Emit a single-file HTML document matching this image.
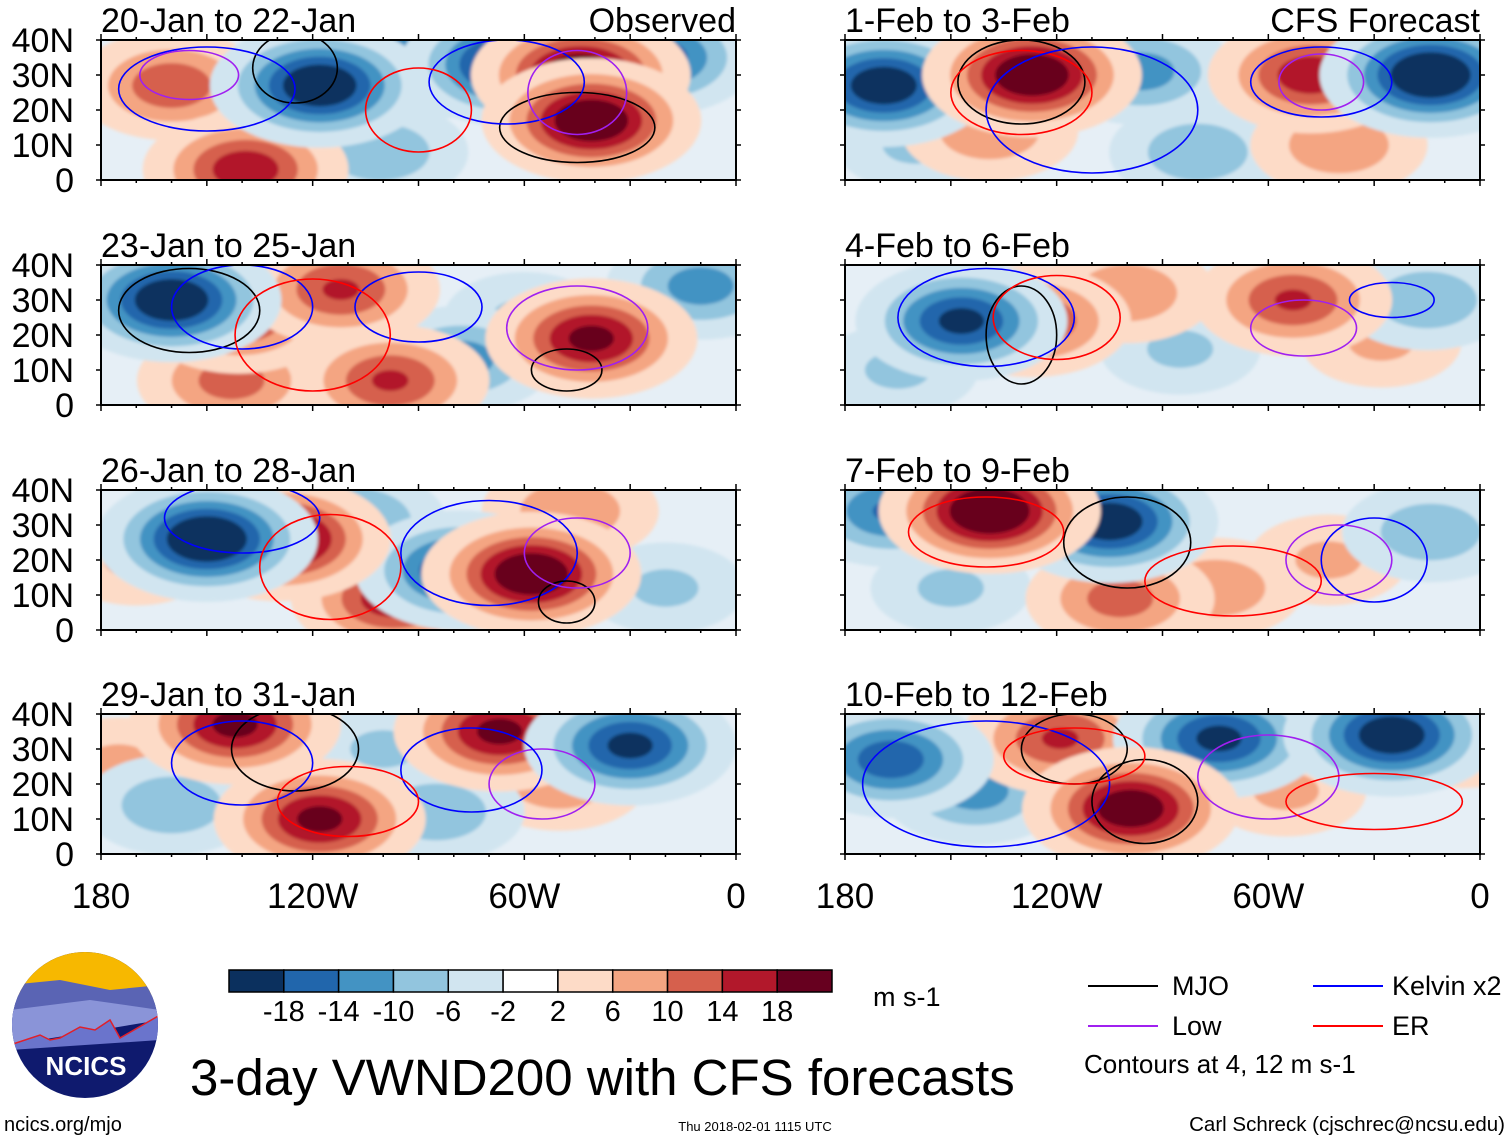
<!DOCTYPE html>
<html><head><meta charset="utf-8">
<style>
body{margin:0;background:#fff;}
svg{display:block;font-family:"Liberation Sans",sans-serif;}
</style></head>
<body>
<svg id="chart" width="1510" height="1141" viewBox="0 0 1510 1141" xmlns="http://www.w3.org/2000/svg">
<defs>
<filter id="soft" x="-20%" y="-20%" width="140%" height="140%"><feGaussianBlur stdDeviation="1.5"/></filter>
</defs>
<g id="panels"></g>

<g id="cbar"></g>
<text x="873" y="1006" font-size="27">m s-1</text>

<g>
<clipPath id="logoclip"><circle cx="85" cy="1025" r="73"/></clipPath>
<g clip-path="url(#logoclip)">
<rect x="10" y="950" width="150" height="150" fill="#0f1a6e"/>
<rect x="10" y="950" width="150" height="45" fill="#f7b800"/>
<path d="M10 985 L60 980 L110 990 L160 985 L160 1020 L10 1030Z" fill="#5a64b4"/>
<path d="M10 1010 L90 1000 L160 1010 L160 1020 L10 1045Z" fill="#8a94d8"/>
<path d="M10 1045 L40 1035 L50 1040 L60 1038 L80 1027 L95 1030 L110 1020 L120 1038 L160 1015 L160 1040 L10 1050Z" fill="#6a74cc"/>
<path d="M10 1045 L40 1035 L50 1040 L60 1038 L80 1027 L95 1030 L110 1020 L120 1038 L160 1015" fill="none" stroke="#e0202a" stroke-width="1.5"/>
</g>
<text x="86" y="1075" font-size="26" font-weight="bold" fill="#fff" text-anchor="middle">NCICS</text>
</g>
<text x="4" y="1131" font-size="20">ncics.org/mjo</text>
<text x="190" y="1095" font-size="51">3-day VWND200 with CFS forecasts</text>
<text x="755" y="1131" font-size="13" text-anchor="middle">Thu 2018-02-01 1115 UTC</text>
<text x="1505" y="1131" font-size="20.5" text-anchor="end">Carl Schreck (cjschrec@ncsu.edu)</text>

<g>
<line x1="1088" y1="986" x2="1158" y2="986" stroke="#000" stroke-width="2"/>
<text x="1172" y="995" font-size="27">MJO</text>
<line x1="1313" y1="986" x2="1383" y2="986" stroke="#0000ff" stroke-width="2"/>
<text x="1392" y="995" font-size="27">Kelvin x2</text>
<line x1="1088" y1="1026" x2="1158" y2="1026" stroke="#a020f0" stroke-width="2"/>
<text x="1172" y="1035" font-size="27">Low</text>
<line x1="1313" y1="1026" x2="1383" y2="1026" stroke="#ff0000" stroke-width="2"/>
<text x="1392" y="1035" font-size="27">ER</text>
<text x="1084" y="1073" font-size="26">Contours at 4, 12 m s-1</text>
</g>
</svg>
<script>
const levels = [-18,-14,-10,-6,-2,2,6,10,14,18];
const levelColors = ["#0b305e","#2166ac","#4393c3","#92c5de","#d1e5f0","#ffffff","#fddbc7","#f4a582","#d6604d","#b2182b","#67001f"];
const panelTitles = ["20-Jan to 22-Jan","23-Jan to 25-Jan","26-Jan to 28-Jan","29-Jan to 31-Jan","1-Feb to 3-Feb","4-Feb to 6-Feb","7-Feb to 9-Feb","10-Feb to 12-Feb"];
const latTicks = ["40N","30N","20N","10N","0"];
const lonTicks = ["180","120W","60W","0"];
// anomaly centres per panel: [lonW, lat, value m/s]
const blobs0 = [[160,27,11],[118,27,-19],[64,33,-19],[44,30,19],[41,17,19],[139,3,14],[23,35,-14],[101,8,-8],[87,34,-14],[130,15,-6]];
const blobs1 = [[160,30,-19],[141,25,12],[143,7,10],[112,33,12],[98,7,12],[78,13,-10],[41,19,16],[10,34,-10],[118,8,-8],[60,25,-6]];
const blobs2 = [[150,26,-20],[129,26,19],[97,9,14],[78,17,-16],[58,16,19],[109,31,-10],[47,34,8],[20,12,-6],[170,20,6]];
const blobs3 = [[142,37,16],[118,10,16],[67,35,16],[30,31,-16],[160,14,-8],[50,21,8],[85,12,-8],[175,26,6],[100,30,-6]];
const blobs4 = [[169,27,-18],[127,30,19],[139,14,8],[96,31,-10],[48,30,14],[14,30,-20],[80,8,-8],[40,10,8],[160,10,-6]];
const blobs5 = [[147,24,-16],[127,24,12],[53,30,12],[100,32,8],[85,16,-6],[15,30,-8],[28,18,6],[165,10,-6]];
const blobs6 = [[139,34,20],[167,34,-12],[105,31,-18],[102,9,10],[75,12,8],[43,20,6],[14,28,-8],[150,12,-6]];
const blobs7 = [[167,27,-14],[119,33,12],[99,13,18],[74,33,-16],[25,34,-18],[5,36,16],[143,18,-10],[55,18,6]];
const allBlobs = [blobs0,blobs1,blobs2,blobs3,blobs4,blobs5,blobs6,blobs7];
// contours per panel: [lonW, lat, halfWidthDeg, halfHeightDeg, kind]
const contours0 = [[125,32,12,10,"mjo"],[45,15,22,10,"mjo"],[150,26,25,12,"kelvin"],[65,28,22,12,"kelvin"],[45,25,14,12,"low"],[155,30,14,7,"low"],[90,20,15,12,"er"]];
const contours1 = [[155,27,20,12,"mjo"],[48,10,10,6,"mjo"],[140,28,20,12,"kelvin"],[90,28,18,10,"kelvin"],[45,22,20,12,"low"],[120,20,22,16,"er"]];
const contours2 = [[140,32,22,10,"kelvin"],[70,22,25,15,"kelvin"],[48,8,8,6,"mjo"],[45,22,15,10,"low"],[115,18,20,15,"er"]];
const contours3 = [[125,30,18,12,"mjo"],[55,20,15,10,"low"],[140,26,20,12,"kelvin"],[75,24,20,12,"kelvin"],[110,15,20,10,"er"]];
const contours4 = [[130,28,18,12,"mjo"],[45,28,20,10,"kelvin"],[45,28,12,8,"low"],[130,25,20,12,"er"],[110,20,30,18,"kelvin"]];
const contours5 = [[130,20,10,14,"mjo"],[50,22,15,8,"low"],[140,25,25,14,"kelvin"],[25,30,12,5,"kelvin"],[120,25,18,12,"er"]];
const contours6 = [[100,25,18,13,"mjo"],[140,28,22,10,"er"],[30,20,15,12,"kelvin"],[40,20,15,10,"low"],[70,14,25,10,"er"]];
const contours7 = [[115,30,15,10,"mjo"],[95,15,15,12,"mjo"],[140,20,35,18,"kelvin"],[60,22,20,12,"low"],[115,28,20,8,"er"],[30,15,25,8,"er"]];
const allContours = [contours0,contours1,contours2,contours3,contours4,contours5,contours6,contours7];

const NS = "http://www.w3.org/2000/svg";
const panelW = 635, panelH = 140;
const colX = [101, 845];
const rowY = [40, 265, 490, 714];
const kindColor = {mjo:"#000000", kelvin:"#0000ff", low:"#a020f0", er:"#ff0000"};
function el(tag, attrs, parent){const e=document.createElementNS(NS,tag);for(const k in attrs)e.setAttribute(k,attrs[k]);if(parent)parent.appendChild(e);return e;}
function xScale(x0, lonW){return x0 + (180-lonW)/180*panelW;}
function yScale(y0, lat){return y0 + panelH - lat/40*panelH;}
function colorFor(v){let i=0;while(i<levels.length && v>levels[i]) i++;return levelColors[i];}

const root = document.getElementById("panels");
for(let p=0;p<8;p++){
  const x0 = colX[p<4?0:1], y0 = rowY[p%4];
  const g = el("g",{},root);
  
  
  const cp = el("clipPath",{id:"clip"+p},g);
  el("rect",{x:x0,y:y0,width:panelW,height:panelH},cp);
  const field = el("g",{"clip-path":"url(#clip"+p+")"},g);
  el("rect",{x:x0,y:y0,width:panelW,height:panelH,fill:"#e6eff6"},field);
  const fg = el("g",{filter:"url(#soft)"},field);
  const sorted = allBlobs[p].slice().sort((a,b)=>Math.abs(a[2])-Math.abs(b[2]));
  sorted.forEach(b=>{
    const A=b[2], s=Math.sign(A), a=Math.abs(A)*1.25;
    const cx=xScale(x0,b[0]), cy=yScale(y0,b[1]);
    const thr=[2,6,10,14,18].filter(t=>t<a);
    thr.forEach(t=>{
      const r=Math.sqrt(2*Math.log(a/t));
      const e=el("ellipse",{cx:cx,cy:cy,rx:r*14/180*panelW,ry:r*8/40*panelH,fill:colorFor(s*(t+0.5))},fg);
      
      
    });
  });
  allContours[p].forEach(c=>{
    const e=el("ellipse",{cx:xScale(x0,c[0]),cy:yScale(y0,c[1]),rx:c[2]/180*panelW,ry:c[3]/40*panelH,fill:"none",stroke:kindColor[c[4]],"stroke-width":1.6},field);
    
    
  });
  const fr=el("rect",{x:x0,y:y0,width:panelW,height:panelH,fill:"none",stroke:"#000","stroke-width":2},g);
  
  
  for(let lon=180;lon>=0;lon-=10){
    const x=xScale(x0,lon), len = lon%30===0?6:3;
    el("line",{x1:x,y1:y0,x2:x,y2:y0-len,stroke:"#000","stroke-width":1.5},g);
    el("line",{x1:x,y1:y0+panelH,x2:x,y2:y0+panelH+len,stroke:"#000","stroke-width":1.5},g);
  }
  for(let i=0;i<=4;i++){
    const y=yScale(y0,40-i*10);
    el("line",{x1:x0,y1:y,x2:x0-5,y2:y,stroke:"#000","stroke-width":1.5},g);
    el("line",{x1:x0+panelW,y1:y,x2:x0+panelW+5,y2:y,stroke:"#000","stroke-width":1.5},g);
    if(p<4){
      const t=el("text",{x:74,y:y+12,"font-size":34,"text-anchor":"end"},g);
      t.textContent=latTicks[i];
      
      
    }
  }
  const tt=el("text",{x:x0,y:y0-8,"font-size":34},g);
  tt.textContent=panelTitles[p];
  
  
  if(p===0||p===4){
    const r=el("text",{x:x0+panelW,y:y0-8,"font-size":34,"text-anchor":"end"},g);
    r.textContent = p===0?"Observed":"CFS Forecast";
    
    
  }
  if(p%4===3){
    for(let i=0;i<4;i++){
      const t=el("text",{x:xScale(x0,180-i*60),y:908,"font-size":35,"text-anchor":"middle"},g);
      t.textContent=lonTicks[i];
      
      
    }
  }
}
const cb=document.getElementById("cbar");
const cbX=229, cbY=970, cbW=603, cbH=22, bw=cbW/levelColors.length;
levelColors.forEach((c,i)=>{
  const r=el("rect",{x:cbX+i*bw,y:cbY,width:bw,height:cbH,fill:c,stroke:"#000","stroke-width":1.5},cb);
  
  
});
levels.forEach((v,i)=>{
  const t=el("text",{x:cbX+(i+1)*bw,y:1021,"font-size":29,"text-anchor":"middle"},cb);
  t.textContent=String(v);
  
  
});
</script>
</body></html>
